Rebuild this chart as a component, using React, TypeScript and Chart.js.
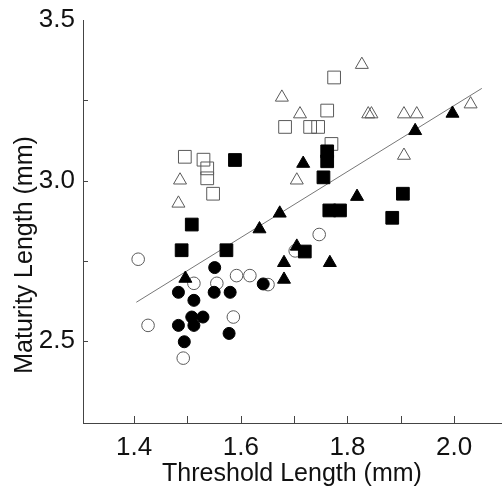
import React, { useEffect, useRef } from 'react';
import { Chart, registerables } from 'chart.js';
Chart.register(...registerables);

const openCircleX = [1.4075, 1.426, 1.492, 1.512, 1.555, 1.592, 1.617, 1.586, 1.651, 1.747, 1.702];
const openCircleY = [2.755, 2.549, 2.447, 2.68, 2.68, 2.704, 2.704, 2.575, 2.676, 2.832, 2.781];
const filledCircleX = [1.551, 1.483, 1.512, 1.55, 1.58, 1.642, 1.508, 1.529, 1.483, 1.512, 1.578, 1.494];
const filledCircleY = [2.729, 2.652, 2.627, 2.652, 2.652, 2.678, 2.575, 2.575, 2.549, 2.549, 2.524, 2.498];
const openSquareX = [1.495, 1.53, 1.537, 1.537, 1.548, 1.683, 1.73, 1.745, 1.762, 1.775, 1.77];
const openSquareY = [3.074, 3.065, 3.038, 3.007, 2.959, 3.167, 3.167, 3.167, 3.218, 3.321, 3.114];
const filledSquareX = [1.489, 1.508, 1.573, 1.589, 1.72, 1.755, 1.762, 1.762, 1.766, 1.786, 1.884, 1.904];
const filledSquareY = [2.783, 2.863, 2.783, 3.064, 2.779, 3.01, 3.091, 3.06, 2.907, 2.907, 2.884, 2.959];
const openTriangleX = [1.483, 1.486, 1.677, 1.705, 1.711, 1.827, 1.839, 1.845, 1.906, 1.93, 1.906, 2.031];
const openTriangleY = [2.929, 3.001, 3.259, 3.001, 3.207, 3.361, 3.207, 3.207, 3.207, 3.207, 3.078, 3.238];
const filledTriangleX = [1.496, 1.635, 1.673, 1.681, 1.681, 1.705, 1.717, 1.767, 1.818, 1.927, 1.997];
const filledTriangleY = [2.695, 2.849, 2.898, 2.744, 2.692, 2.795, 3.053, 2.744, 2.95, 3.155, 3.209];

const fitLineX = [1.404, 2.052];
const fitLineY = [2.621, 3.287];

const xTickLabels = [1.4, 1.6, 1.8, 2.0];
const yTickLabels = [2.5, 3.0, 3.5];
const xTickMarks = [1.4, 1.5, 1.6, 1.7, 1.8, 1.9, 2.0];
const yTickMarks = [2.5, 2.75, 3.0, 3.25];

const xTitle = 'Threshold Length (mm)';
const yTitle = 'Maturity Length (mm)';

const FONT = "'Liberation Sans', Arial, Helvetica, sans-serif";
const toPts = (xs: number[], ys: number[]) => xs.map((x, i) => ({ x, y: ys[i] }));

export default function App() {
  const ref = useRef<HTMLCanvasElement | null>(null);
  useEffect(() => {
    document.body.style.margin = '0';
    const canvas = ref.current!;
    const open = { backgroundColor: 'rgba(0,0,0,0)', borderColor: '#5a5a5a', borderWidth: 1 };
    const filled = { backgroundColor: '#000', borderColor: '#000', borderWidth: 1 };
    const extrasPlugin = {
      id: 'extras',
      afterDraw(chart: any) {
        const { ctx, scales, chartArea } = chart;
        ctx.save();
        ctx.strokeStyle = '#444';
        ctx.lineWidth = 1;
        ctx.beginPath();
        xTickMarks.forEach((v) => {
          const px = Math.round(scales.x.getPixelForValue(v)) + 0.5;
          ctx.moveTo(px, chartArea.bottom);
          ctx.lineTo(px, chartArea.bottom - 7);
        });
        yTickMarks.forEach((v) => {
          const py = Math.round(scales.y.getPixelForValue(v)) + 0.5;
          ctx.moveTo(chartArea.left, py);
          ctx.lineTo(chartArea.left + 5, py);
        });
        ctx.stroke();
        ctx.fillStyle = '#111';
        ctx.font = `25px ${FONT}`;
        ctx.textAlign = 'center';
        ctx.textBaseline = 'middle';
        ctx.translate(25, 255);
        ctx.rotate(-Math.PI / 2);
        ctx.fillText(yTitle, 0, 0);
        ctx.restore();
      },
    };
    const chart = new Chart(canvas, {
      type: 'scatter',
      data: {
        datasets: [
          { label: 'filled triangles', data: toPts(filledTriangleX, filledTriangleY), pointStyle: 'triangle', pointRadius: 7.5, ...filled },
          { label: 'filled squares', data: toPts(filledSquareX, filledSquareY), pointStyle: 'rect', pointRadius: 9, ...filled },
          { label: 'filled circles', data: toPts(filledCircleX, filledCircleY), pointStyle: 'circle', pointRadius: 6, ...filled },
          { label: 'open triangles', data: toPts(openTriangleX, openTriangleY), pointStyle: 'triangle', pointRadius: 7.5, ...open },
          { label: 'open squares', data: toPts(openSquareX, openSquareY), pointStyle: 'rect', pointRadius: 9, ...open },
          { label: 'open circles', data: toPts(openCircleX, openCircleY), pointStyle: 'circle', pointRadius: 6.3, ...open },
          {
            type: 'line',
            label: 'fit',
            data: toPts(fitLineX, fitLineY),
            borderColor: '#777',
            borderWidth: 1,
            pointRadius: 0,
            showLine: true,
            fill: false,
          } as any,
        ],
      },
      options: {
        responsive: false,
        animation: false,
        events: [],
        layout: { autoPadding: false, padding: { top: 20, right: 2, left: 0, bottom: 0 } },
        plugins: { legend: { display: false }, tooltip: { enabled: false } },
        scales: {
          x: {
            type: 'linear',
            min: 1.304,
            max: 2.088,
            grid: { display: false, drawTicks: false },
            border: { display: true, color: '#444', width: 1 },
            afterBuildTicks: (s: any) => { s.ticks = xTickLabels.map((v) => ({ value: v })); },
            afterFit: (s: any) => { s.height = 68; s.paddingLeft = 0; s.paddingRight = 0; },
            ticks: {
              padding: 9,
              color: '#111',
              font: { family: FONT, size: 26 },
              callback: (v: any) => Number(v).toFixed(1),
            },
            title: {
              display: true,
              text: xTitle,
              color: '#111',
              font: { family: FONT, size: 25 },
              padding: 2,
            },
          },
          y: {
            type: 'linear',
            min: 2.245,
            max: 3.5,
            grid: { display: false, drawTicks: false },
            border: { display: true, color: '#444', width: 1 },
            afterBuildTicks: (s: any) => { s.ticks = yTickLabels.map((v) => ({ value: v })); },
            afterFit: (s: any) => { s.width = 83; s.paddingTop = 0; s.paddingBottom = 0; },
            ticks: {
              padding: 8,
              color: '#111',
              font: { family: FONT, size: 26 },
              callback: (v: any) => Number(v).toFixed(1),
            },
            title: { display: false },
          },
        },
      },
      plugins: [extrasPlugin],
    });
    return () => chart.destroy();
  }, []);
  return (
    <div style={{ position: 'absolute', left: 0, top: 0, width: 503, height: 491, background: '#fff' }}>
      <canvas ref={ref} width={503} height={491} style={{ display: 'block' }} />
    </div>
  );
}
